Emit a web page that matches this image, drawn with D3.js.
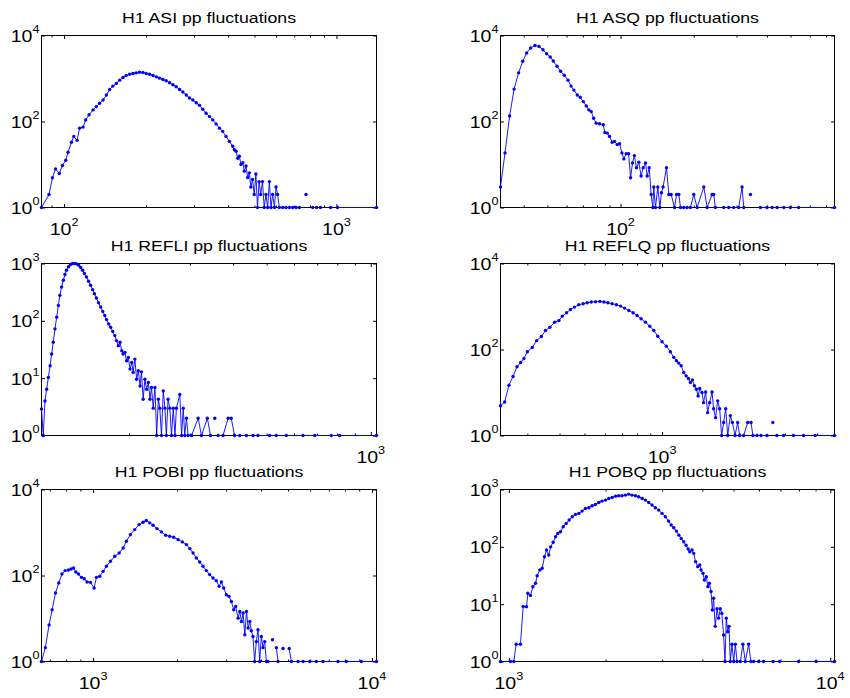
<!DOCTYPE html>
<html>
<head>
<meta charset="utf-8">
<script src="https://cdn.jsdelivr.net/npm/d3@7"></script>
<style>
  body { margin: 0; background: #fff; }
  text { font-family: "Liberation Sans", Arial, Helvetica, sans-serif; fill: #000; }
</style>
</head>
<body>
<svg id="chart" width="850" height="698"></svg>
<script>
// ---- data (histogram counts) ----
const titles = [
  'H1 ASI pp fluctuations', 'H1 ASQ pp fluctuations',
  'H1 REFLI pp fluctuations', 'H1 REFLQ pp fluctuations',
  'H1 POBI pp fluctuations', 'H1 POBQ pp fluctuations'
];

// tick labels, as powers of ten
const xLabelExp = [[2, 3], [2], [3], [3], [3, 4], [3, 4]];
const yLabelExp = [[0, 2, 4], [0, 2, 4], [0, 1, 2, 3], [0, 2, 4], [0, 2, 4], [0, 1, 2, 3]];
const yTopExp = [4, 4, 3, 4, 4, 3];

const asiX = [82.6, 88, 90.6, 93, 96, 98.6, 101.4, 103.4, 106.4, 108.5,
  111.6, 114, 117.4, 120, 123.5, 127.7, 131.3, 135, 139, 143,
  147, 151, 155.5, 160, 164.5, 169, 174, 179, 184, 189,
  194.6, 200, 206, 212, 218, 224, 230.5, 237, 244, 251,
  258, 265.5, 273, 281, 288.5, 297, 305.5, 314, 323, 332,
  342, 351.5, 361.5, 372, 382, 393, 404.5, 416, 422, 428,
  434, 440, 446, 453, 459, 465.5, 472, 479, 485, 492,
  499, 506, 513, 520, 527, 535, 543, 551, 559, 567,
  575, 583, 592, 600, 608, 617, 635, 653, 672, 691,
  711, 731, 752, 773, 795, 818, 845, 873, 912, 952,
  980, 1009, 1403];
const asiY = [1, 2, 4.9, 7.9, 6.2, 9.5, 12.6, 19.3, 32.8, 45,
  36.4, 70, 74, 109, 143, 186, 222, 265, 316, 412,
  557, 665, 767, 916, 1054, 1172, 1259, 1304, 1352, 1400,
  1375, 1304, 1259, 1172, 1093, 1018, 948, 883, 794, 714,
  642, 557, 484, 412, 352, 316, 274, 238, 193, 156,
  130, 109, 88, 70, 59, 45, 34.5, 26.5, 22, 20.3,
  14, 15.6, 10, 11, 7, 9.2, 5, 6.4, 3, 4.5,
  2, 6, 1, 4, 2, 4, 1, 2, 1, 4,
  1, 2, 1, 3, 2, 1, 1, 1, 1, 1,
  1, 1, 0, 2, 0, 1, 1, 1, 0, 1,
  0, 1, 1];

const asqX = [32.1, 33.5, 35, 36.5, 38.1, 39.6, 41.1, 42.7, 44.5, 46.2,
  48, 49.7, 51.4, 52.9, 54.8, 56.7, 58.7, 60.8, 62.6, 64.3,
  66.4, 68.3, 70.3, 72.3, 74.1, 75.8, 77.5, 79.4, 82, 84.9,
  86.2, 88.2, 90.1, 92.4, 94.5, 96.9, 99.1, 101.3, 103.2, 105.5,
  107.9, 110, 112, 114, 116.3, 118.9, 121.5, 123.9, 126.7, 128.7,
  131.2, 133.6, 135.8, 137, 139.2, 142.3, 145.1, 147.3, 149.6, 154.5,
  158, 161.5, 166.7, 170, 173.7, 176.4, 181.8, 187.7, 193.8, 200,
  206.5, 220, 227, 237.9, 241.6, 245.4, 265.6, 278.4, 291.9, 306,
  316, 321, 332, 342, 352, 376, 400, 420, 440, 469,
  499, 540, 758];
const asqY = [3, 18.6, 135, 567, 1352, 2512, 3910, 5100, 5875, 5570,
  4670, 3775, 3162, 2557, 1927, 1476, 1194, 916, 665, 538,
  412, 365, 290, 230, 186, 170, 119, 91.5, 88.3, 83.8,
  55.7, 53.8, 45, 32.8, 34.5, 29, 30.5, 18.6, 13.5, 17.9,
  17.9, 4.9, 10.9, 16.1, 8.4, 11.3, 5.4, 8.4, 10.9, 5.4,
  8.4, 2, 1, 3, 1, 3, 1, 2.2, 3, 8.4,
  2, 2, 1, 2, 2, 1, 1, 1, 1, 2,
  1, 3, 1, 2, 2, 1, 1, 1, 1, 1,
  3, 1, 0, 2, 0, 1, 1, 1, 1, 1,
  1, 1, 1];

const refliX = [111.7, 113, 114.3, 115.6, 116.9, 118.3, 119.5, 120.8, 122.2, 123.6,
  125, 126.2, 127.7, 129.2, 130.6, 131.9, 133.7, 135.5, 137.4, 139.3,
  141, 143, 145, 146.9, 148.6, 150.7, 152.8, 154.9, 157, 158.9,
  161, 163.3, 165.6, 167.9, 170.2, 172.2, 174.6, 177, 179.5, 182,
  184, 186.3, 188.4, 190.6, 192.3, 194.6, 196.8, 199.1, 201.4, 203.7,
  205.6, 208, 210.4, 212.8, 215.3, 217.3, 219.8, 222.3, 224.9, 227.5,
  230, 232.3, 235, 237.7, 240.4, 243.2, 245.5, 248.3, 251.2, 254,
  256.5, 259.4, 262.4, 265.4, 268.5, 271.6, 274.2, 280.5, 283.8, 287,
  289.8, 293.2, 296.5, 303.4, 317, 324, 337, 344, 349, 354,
  358, 362, 374, 387, 395, 404, 418, 437, 457, 472,
  510, 533, 570, 637, 689, 769, 813, 1039];
const refliY = [2.9, 1, 4, 6.4, 10.3, 16.5, 26.4, 42.2, 72.4, 116,
  186, 278, 390, 510, 641, 764, 875, 960, 1000, 1000,
  986, 935, 851, 764, 668, 583, 490, 417, 350, 298,
  250, 207, 174, 146, 124, 105, 88.5, 77.4, 65, 55.3,
  45.2, 36.9, 42.2, 30.2, 26.4, 28.2, 20.1, 23, 14.4, 18.8,
  12.6, 21.5, 9.6, 13.5, 7.3, 12.9, 4.3, 9.6, 6.4, 8.4,
  4.3, 6.9, 3, 6.9, 1, 4.3, 3, 1, 6, 3,
  1, 4.3, 3, 1, 3, 1, 3, 5.2, 1, 3,
  1, 2, 1, 1, 2, 1, 2, 1, 0, 2,
  0, 1, 1, 2, 2, 1, 1, 1, 1, 1,
  1, 1, 1, 1, 1, 1, 1, 1];

const reflqX = [236, 245, 254.5, 264, 273.5, 282.5, 291, 300, 313.5, 326,
  340, 353, 367, 383, 398, 410, 426, 441, 457, 475,
  494, 512, 531, 552, 574, 595, 616, 640, 665, 690,
  715, 743, 772, 800, 829, 862, 896, 929, 962, 1000,
  1039, 1077, 1110, 1137, 1161, 1186, 1214, 1240, 1265, 1288,
  1312, 1335, 1359, 1380, 1400, 1429, 1449, 1476, 1503, 1530,
  1563, 1585, 1614, 1644, 1673, 1703, 1734, 1766, 1798, 1841,
  1875, 1920, 1965, 2000, 2073, 2149, 2214, 2253, 2335, 2420,
  2553, 2620, 2692, 2740, 2790, 2963, 3236, 3540, 3930, 4670];
const reflqY = [4.9, 6, 14.8, 23.6, 39.7, 50, 62, 89, 112, 161,
  200, 276, 330, 432, 472, 597, 714, 855, 969, 1099,
  1160, 1225, 1268, 1291, 1315, 1268, 1225, 1160, 1099, 1023,
  918, 809, 714, 618, 517, 432, 348, 276, 203, 152,
  119, 89, 65.6, 54.8, 48.3, 41.9, 29.2, 24.4, 21.2, 17.1,
  19.7, 14.3, 11.9, 8.3, 12.4, 10, 5.8, 10.3, 3.4, 5.8,
  10.3, 4.2, 2.6, 6.4, 4.2, 1, 2, 4.2, 1, 2.9,
  2, 1, 2, 1, 1, 2, 2, 1, 1, 1,
  1, 0, 2, 0, 1, 1, 1, 1, 1, 1];

const pobiX = [653, 674, 695, 713, 733, 753, 773, 794, 816, 834,
  851, 867, 886, 908, 929, 951, 978, 1008, 1028, 1057,
  1086, 1116, 1154, 1196, 1240, 1282, 1316, 1361, 1410, 1462,
  1510, 1552, 1596, 1641, 1694, 1757, 1820, 1882, 1945, 2017,
  2089, 2161, 2223, 2282, 2345, 2411, 2478, 2547, 2618, 2691,
  2766, 2829, 2884, 2940, 3005, 3070, 3131, 3193, 3245, 3311,
  3357, 3404, 3451, 3499, 3548, 3597, 3647, 3692, 3743, 3795,
  3848, 3902, 3956, 4011, 4067, 4124, 4181, 4239, 4300, 4397,
  4446, 4541, 4604, 4700, 4797, 4920, 5047, 5140, 5433, 5662,
  5983, 6314, 6672, 7551, 8090, 9160, 10380];
const pobiY = [1, 2.1, 7.1, 16, 39.1, 66.9, 108, 130, 134, 142,
  150, 121, 108, 90.6, 84.3, 70.6, 69.3, 51.2, 90.6, 95.7,
  125, 164, 214, 280, 334, 437, 625, 894, 1169, 1528,
  1733, 1896, 1673, 1476, 1233, 1032, 863, 818, 775, 684,
  604, 523, 422, 334, 256, 206, 164, 130, 105, 87.5,
  75.9, 56, 70.6, 51.2, 35.7, 32.7, 25, 16, 19.1, 10.2,
  14.6, 8.5, 13.4, 4.2, 14.6, 6, 8.5, 5.2, 3.8, 1,
  2.9, 5.5, 1, 3.8, 2.1, 2.9, 1, 1, 0, 3.2,
  0, 2.1, 1, 0, 2, 0, 2, 1, 1, 1,
  1, 1, 1, 1, 1, 1, 1];

const pobqX = [942, 1012, 1036, 1054, 1087, 1108, 1135, 1146, 1168, 1188,
  1211, 1225, 1249, 1270, 1291, 1310, 1331, 1349, 1374, 1397,
  1420, 1448, 1476, 1508, 1541, 1575, 1611, 1652, 1690, 1730,
  1774, 1816, 1859, 1905, 1950, 2000, 2046, 2096, 2148, 2198,
  2250, 2305, 2360, 2416, 2476, 2535, 2599, 2661, 2724, 2790,
  2857, 2925, 2997, 3069, 3141, 3199, 3260, 3321, 3381, 3437,
  3501, 3559, 3614, 3656, 3716, 3759, 3812, 3871, 3926, 3964,
  4020, 4058, 4117, 4159, 4208, 4257, 4297, 4336, 4387, 4444,
  4495, 4547, 4600, 4657, 4706, 4749, 4797, 4843, 4887, 4946,
  5007, 5067, 5129, 5252, 5349, 5441, 5573, 5666, 5776, 5988,
  6203, 6642, 6956, 7973, 9042, 10310];
const pobqY = [1, 1, 1, 2, 2, 9.1, 9, 15.5, 14.1, 20.2,
  23.1, 31.4, 39.4, 42.2, 67.3, 88, 72, 100, 120, 150,
  171, 183, 224, 256, 293, 335, 368, 383, 420, 467,
  480, 520, 549, 594, 627, 653, 698, 727, 766, 777,
  777, 798, 830, 798, 777, 746, 698, 653, 594, 535,
  480, 437, 383, 335, 281, 240, 215, 188, 160, 140,
  123, 107, 91.6, 82.3, 88, 77, 55.1, 45.1, 48.2, 39.4,
  34.5, 26.4, 30.2, 20.2, 23.1, 16.6, 7.9, 12.7, 4.1, 8.3,
  5.7, 8.3, 6.9, 2.9, 1, 5.7, 3.3, 4.1, 1, 2,
  1, 2, 1, 1, 2, 1, 2, 1, 1, 1,
  1, 1, 1, 1, 1, 1];

const seriesX = [asiX, asqX, refliX, reflqX, pobiX, pobqX];
const seriesY = [asiY, asqY, refliY, reflqY, pobiY, pobqY];

// ---- layout ----
const colLeft = [41.5, 500.5];
const colWidth = [335, 334];
const rowTop = [35.5, 263.5, 489.5];
const plotH = 172;
const blue = '#0000ff';
const titleSize = 15, titleSx = 1.18;
const tickSize = 17, expSize = 11, tickSx = 1.15;

const svg = d3.select('#chart');
svg.append('rect').attr('width', 850).attr('height', 698).attr('fill', '#fff');

// major (1 x 10^k) and minor (2..9 x 10^k) values inside a log domain
function logTicks([a, b]) {
  const major = [], minor = [];
  for (let e = Math.floor(Math.log10(a)); e <= Math.ceil(Math.log10(b)); e++) {
    for (let m = 1; m <= 9; m++) {
      const v = m * Math.pow(10, e);
      if (v >= a * 0.999 && v <= b * 1.001) (m === 1 ? major : minor).push(v);
    }
  }
  return { major, minor };
}

titles.forEach((title, i) => {
  const col = i % 2, row = Math.floor(i / 2);
  const w = colWidth[col], h = plotH;
  const g = svg.append('g')
    .attr('transform', `translate(${colLeft[col]},${rowTop[row]})`);

  const data = seriesX[i].map((v, j) => ({ x: v, y: seriesY[i][j] }));

  const x = d3.scaleLog().domain(d3.extent(seriesX[i])).range([0, w]);
  const y = d3.scaleLog().domain([1, Math.pow(10, yTopExp[i])]).range([h, 0]);

  const xt = logTicks(x.domain());
  const yMajor = yLabelExp[i].map(e => Math.pow(10, e));

  // inward ticks on all four sides (x gets minor ticks, y only labelled decades)
  const sides = [
    [d3.axisBottom(x), `translate(0,${h})`, [[xt.major, 3.5], [xt.minor, 2]]],
    [d3.axisTop(x), 'translate(0,0)', [[xt.major, 3.5], [xt.minor, 2]]],
    [d3.axisLeft(y), 'translate(0,0)', [[yMajor, 3.5]]],
    [d3.axisRight(y), `translate(${w},0)`, [[yMajor, 3.5]]]
  ];
  sides.forEach(([axis, tr, sets]) => {
    sets.forEach(([vals, len]) => {
      g.append('g')
        .attr('transform', tr)
        .call(axis.tickValues(vals).tickSize(-len).tickSizeOuter(0).tickFormat(''))
        .call(s => s.select('.domain').remove())
        .selectAll('line').attr('stroke', '#000').attr('stroke-width', 1);
    });
  });

  g.append('rect')
    .attr('width', w).attr('height', h)
    .attr('fill', 'none').attr('stroke', '#000').attr('stroke-width', 1);

  // tick labels with superscript exponents
  xLabelExp[i].forEach(e => {
    const t = g.append('text')
      .attr('transform', `translate(${x(Math.pow(10, e))},${h + 27}) scale(${tickSx},1)`)
      .attr('text-anchor', 'middle')
      .attr('font-size', tickSize);
    t.append('tspan').text('10');
    t.append('tspan').attr('dy', -9).attr('font-size', expSize).text(e);
  });
  yLabelExp[i].forEach(e => {
    const t = g.append('text')
      .attr('transform', `translate(-2,${y(Math.pow(10, e)) + 6.5}) scale(${tickSx},1)`)
      .attr('text-anchor', 'end')
      .attr('font-size', tickSize);
    t.append('tspan').text('10');
    t.append('tspan').attr('dy', -9).attr('font-size', expSize).text(e);
  });

  g.append('text')
    .attr('transform', `translate(${w / 2},-13) scale(${titleSx},1)`)
    .attr('text-anchor', 'middle')
    .attr('font-size', titleSize)
    .text(title);

  // series: thin line with dot markers, zero bins break the line
  const line = d3.line()
    .defined(d => d.y > 0)
    .x(d => x(d.x))
    .y(d => y(d.y));

  g.append('path')
    .datum(data)
    .attr('d', line)
    .attr('fill', 'none')
    .attr('stroke', blue)
    .attr('stroke-width', 0.9);

  g.selectAll('.dot')
    .data(data.filter(d => d.y > 0))
    .enter().append('circle')
    .attr('class', 'dot')
    .attr('cx', d => x(d.x))
    .attr('cy', d => y(d.y))
    .attr('r', 1.7)
    .attr('fill', blue);
});
</script>
</body>
</html>
